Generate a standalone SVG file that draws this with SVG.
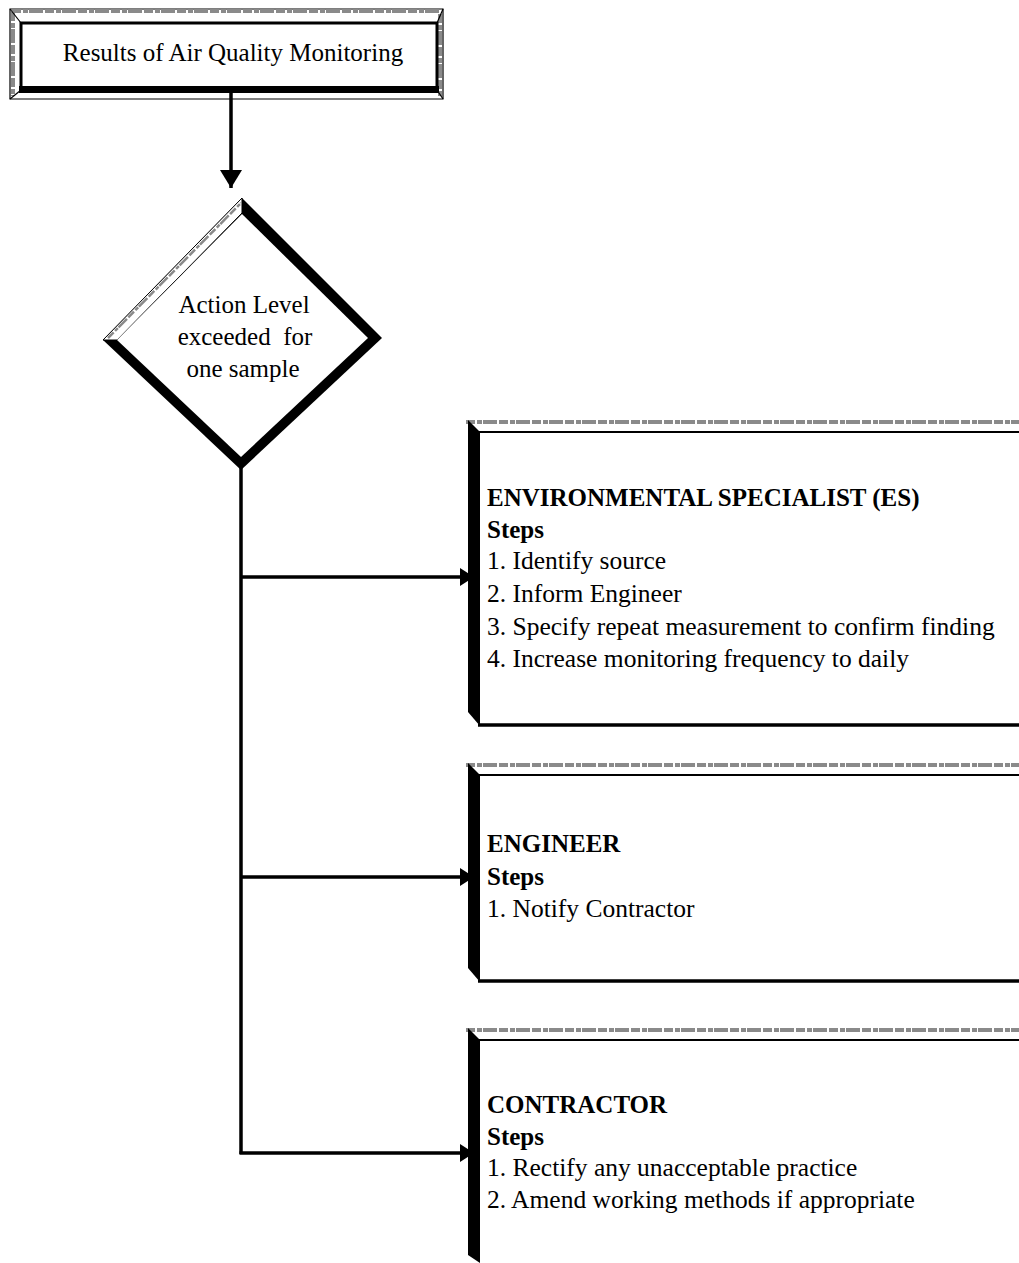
<svg xmlns="http://www.w3.org/2000/svg" width="1019" height="1263" viewBox="0 0 1019 1263">
  <style>
    .t { font-family: "Liberation Serif", "Times New Roman", serif; font-size: 25.5px; fill: #000; }
    .b { font-weight: bold; font-size: 25px; }
    .c { text-anchor: middle; white-space: pre; font-size: 25px; }
    .gray { stroke: #8a8a8a; stroke-width: 4; fill: none; stroke-dasharray: 9 2 5 1 14 2; }
    .edge { stroke: #000; fill: none; }
    .conn { stroke: #000; stroke-width: 3.5; fill: none; }
  </style>
  <defs>
    <marker id="ah" viewBox="0 0 14 18" markerWidth="14" markerHeight="18" refX="14" refY="9" orient="auto" markerUnits="userSpaceOnUse">
      <path d="M0,0 L14,9 L0,18 Z" fill="#000"/>
    </marker>
    <marker id="ahBig" viewBox="0 0 18 22" markerWidth="18" markerHeight="22" refX="18" refY="11" orient="auto" markerUnits="userSpaceOnUse">
      <path d="M0,0 L18,11 L0,22 Z" fill="#000"/>
    </marker>
  </defs>
  <rect width="1019" height="1263" fill="#fff"/>

  <!-- Start box -->
  <g id="node-results">
    <polygon points="10,9 443,9 443,99 10,99" fill="#fff" stroke="#000" stroke-width="1.2"/>
    <line x1="12" y1="11" x2="441" y2="11" class="gray" stroke-width="3"/>
    <line x1="13" y1="12" x2="13" y2="96" class="gray" stroke-width="2"/>
    <line x1="440" y1="14" x2="440" y2="96" class="gray" stroke-width="2"/>
    <line x1="10" y1="9" x2="21" y2="23" class="edge" stroke-width="1.2"/>
    <line x1="443" y1="9" x2="437" y2="23" class="edge" stroke-width="1.2"/>
    <line x1="10" y1="99" x2="21" y2="90" class="edge" stroke-width="1.2"/>
    <line x1="443" y1="99" x2="437" y2="90" class="edge" stroke-width="1.2"/>
    <rect x="21" y="23" width="416" height="66" fill="#fff" stroke="#000" stroke-width="3"/>
    <rect x="19" y="86" width="420" height="7" fill="#000"/>
    <text class="t c" x="233" y="61">Results of Air Quality Monitoring</text>
  </g>

  <!-- Decision diamond -->
  <g id="node-action-level">
    <polygon points="242,198 382,338 241,470 103,340" fill="#000"/>
    <polygon points="103,340 242,198 242,213 117,340" fill="#fff" stroke="#000" stroke-width="1"/>
    <line x1="108" y1="338" x2="241" y2="203" stroke="#8a8a8a" stroke-width="2.5" stroke-dasharray="8 2 4 1 12 2"/>
    <polygon points="242,214 368,338 241,457 117,340" fill="#fff"/>
    <text class="t c" x="244" y="313">Action Level</text>
    <text class="t c" x="245" y="345">exceeded  for</text>
    <text class="t c" x="243" y="377">one sample</text>
  </g>

  <!-- ES box -->
  <g id="node-es">
    <rect x="480" y="432" width="560" height="293" fill="#fff"/>
    <line x1="466" y1="422" x2="1019" y2="422" class="gray"/>
    <line x1="478" y1="432" x2="1019" y2="432" stroke="#000" stroke-width="2"/>
    <polygon points="468,420 480,432 480,726 468,712" fill="#000"/>
    <line x1="478" y1="725" x2="1019" y2="725" stroke="#000" stroke-width="3.5"/>
    <text class="t b" x="487" y="506">ENVIRONMENTAL SPECIALIST (ES)</text>
    <text class="t b" x="487" y="538">Steps</text>
    <text class="t" x="487" y="569">1. Identify source</text>
    <text class="t" x="487" y="602">2. Inform Engineer</text>
    <text class="t" x="487" y="635">3. Specify repeat measurement to confirm finding</text>
    <text class="t" x="487" y="667">4. Increase monitoring frequency to daily</text>
  </g>

  <!-- Engineer box -->
  <g id="node-engineer">
    <rect x="480" y="775" width="560" height="205" fill="#fff"/>
    <line x1="466" y1="765" x2="1019" y2="765" class="gray"/>
    <line x1="478" y1="775" x2="1019" y2="775" stroke="#000" stroke-width="2"/>
    <polygon points="468,763 480,775 480,982 468,968" fill="#000"/>
    <line x1="478" y1="981" x2="1019" y2="981" stroke="#000" stroke-width="3.5"/>
    <text class="t b" x="487" y="852">ENGINEER</text>
    <text class="t b" x="487" y="885">Steps</text>
    <text class="t" x="487" y="917">1. Notify Contractor</text>
  </g>

  <!-- Contractor box -->
  <g id="node-contractor">
    <rect x="480" y="1040" width="560" height="240" fill="#fff"/>
    <line x1="466" y1="1030" x2="1019" y2="1030" class="gray"/>
    <line x1="478" y1="1040" x2="1019" y2="1040" stroke="#000" stroke-width="2"/>
    <polygon points="468,1028 480,1040 480,1263 468,1255" fill="#000"/>
    <text class="t b" x="487" y="1113">CONTRACTOR</text>
    <text class="t b" x="487" y="1145">Steps</text>
    <text class="t" x="487" y="1176">1. Rectify any unacceptable practice</text>
    <text class="t" x="487" y="1208">2. Amend working methods if appropriate</text>
  </g>

  <!-- Connectors -->
  <g id="connectors">
    <line class="conn" stroke-width="4" x1="231" y1="93" x2="231" y2="188" marker-end="url(#ahBig)"/>
    <polyline class="conn" points="241,466 241,1154"/>
    <line class="conn" x1="241" y1="577" x2="474" y2="577" marker-end="url(#ah)"/>
    <line class="conn" x1="241" y1="877" x2="474" y2="877" marker-end="url(#ah)"/>
    <line class="conn" x1="239.5" y1="1153" x2="474" y2="1153" marker-end="url(#ah)"/>
  </g>
</svg>
